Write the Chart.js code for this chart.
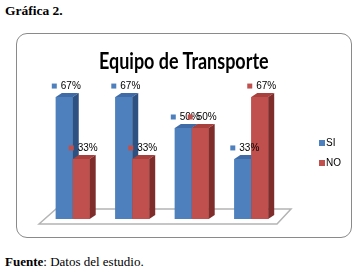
<!DOCTYPE html>
<html>
<head>
<meta charset="utf-8">
<script src="https://cdn.jsdelivr.net/npm/chart.js@4.4.1/dist/chart.umd.min.js"></script>
<style>
	body { margin: 0; background: #fff; width: 354px; height: 271px; position: relative; overflow: hidden; }
	.cap { position: absolute; left: 5px; font-family: "Liberation Serif", "Times New Roman", serif; font-size: 13.5px; color: #000; white-space: nowrap; }
	.frame { position: absolute; left: 16px; top: 33px; width: 334px; height: 203px; border: 1px solid #8a8a8a; border-radius: 11px; }
	#title { position: absolute; left: 0; top: 13px; width: 334px; text-align: center; font-family: Lato, "Liberation Sans", Arial, sans-serif; font-weight: bold; font-size: 22px; color: #000; white-space: nowrap; }
	#title span { display: inline-block; transform-origin: center; }
	canvas { position: absolute; left: 0; top: 0; }
</style>
</head>
<body>
<div class="cap" style="top: 3px; font-weight: bold;">Gráfica 2.</div>
<div class="frame">
	<canvas id="transporte-chart" width="334" height="203"></canvas>
	<div id="title"><span>Equipo de Transporte</span></div>
</div>
<div class="cap" style="top: 254px; font-size: 13px;"><b>Fuente</b>: Datos del estudio.</div>

<script>
var categories = ['1', '2', '3', '4'];
var seriesNames = ['SI', 'NO'];
var siValues = [67, 67, 50, 33];
var noValues = [33, 33, 50, 67];

var frontColors = ['#4e80bd', '#c0504d'];
var topColors = ['#3f6ca6', '#a8403d'];
var sideColors = ['#2d5282', '#7f2d2b'];

// pull the title to the same width as the reference
var t = document.querySelector('#title span');
t.style.transform = 'scaleX(' + (170 / t.offsetWidth) + ')';

var depthX = 6, depthY = 4;

function poly(ctx, pts, color) {
	ctx.beginPath();
	ctx.moveTo(pts[0][0], pts[0][1]);
	for (var i = 1; i < pts.length; i++) ctx.lineTo(pts[i][0], pts[i][1]);
	ctx.closePath();
	ctx.fillStyle = color;
	ctx.fill();
}

var floorPlugin = {
	id: 'floor',
	beforeDatasetsDraw: function (chart) {
		var ctx = chart.ctx, a = chart.chartArea;
		var y0 = chart.scales.y.getPixelForValue(0);
		ctx.save();
		ctx.strokeStyle = '#b4b4b4';
		ctx.lineWidth = 1.5;
		ctx.beginPath();
		ctx.moveTo(a.left - 4, y0 + 5);
		ctx.lineTo(a.left + 13, y0 - 10);
		ctx.lineTo(a.right + 10, y0 - 10);
		ctx.lineTo(a.right - 4, y0 + 5);
		ctx.closePath();
		ctx.stroke();
		ctx.restore();
	}
};

var bars3dPlugin = {
	id: 'bars3d',
	afterDatasetsDraw: function (chart) {
		var ctx = chart.ctx;
		ctx.save();
		categories.forEach(function (c, i) {
			chart.data.datasets.forEach(function (ds, d) {
				var bar = chart.getDatasetMeta(d).data[i];
				var l = bar.x - bar.width / 2, r = bar.x + bar.width / 2;
				var y = bar.y, b = bar.base;
				poly(ctx, [[l, y], [r, y], [r, b], [l, b]], frontColors[d]);
				poly(ctx, [[l, y], [r, y], [r + depthX, y - depthY], [l + depthX, y - depthY]], topColors[d]);
				poly(ctx, [[r, y], [r + depthX, y - depthY], [r + depthX, b - depthY], [r, b]], sideColors[d]);
			});
		});
		// value labels
		ctx.font = '10px "Liberation Sans", Arial, sans-serif';
		ctx.textBaseline = 'middle';
		chart.data.datasets.forEach(function (ds, d) {
			chart.getDatasetMeta(d).data.forEach(function (bar, i) {
				var l = bar.x - bar.width / 2;
				var ly = bar.y - 11;
				ctx.fillStyle = frontColors[d];
				ctx.fillRect(l - 4, ly - 2.5, 5, 5);
				ctx.fillStyle = '#000';
				ctx.fillText(ds.data[i] + '%', l + 5, ly);
			});
		});
		// legend
		chart.data.datasets.forEach(function (ds, d) {
			var lx = chart.chartArea.right + 38, ly = 109 + d * 20;
			ctx.fillStyle = frontColors[d];
			ctx.fillRect(lx, ly - 3, 6, 6);
			ctx.fillStyle = '#000';
			ctx.fillText(ds.label, lx + 7, ly);
		});
		ctx.restore();
	}
};

new Chart('transporte-chart', {
	type: 'bar',
	data: {
		labels: categories,
		datasets: [
			{ label: seriesNames[0], data: siValues, backgroundColor: frontColors[0] },
			{ label: seriesNames[1], data: noValues, backgroundColor: frontColors[1] }
		]
	},
	options: {
		responsive: false,
		animation: false,
		devicePixelRatio: 1,
		layout: { padding: { left: 26, right: 70, top: 3, bottom: 18 } },
		datasets: { bar: { categoryPercentage: 0.57, barPercentage: 1.0 } },
		scales: {
			x: { display: false },
			y: { display: false, min: 0, max: 100 }
		},
		plugins: {
			legend: { display: false },
			tooltip: { enabled: false }
		}
	},
	plugins: [floorPlugin, bars3dPlugin]
});
</script>
</body>
</html>
